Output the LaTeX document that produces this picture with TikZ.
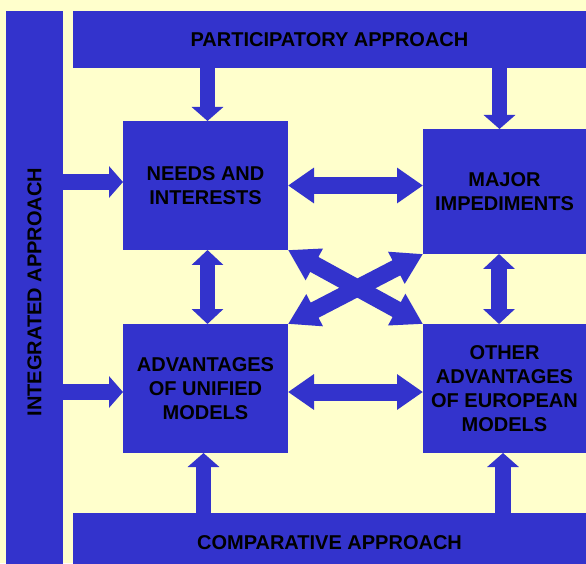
\documentclass[tikz,border=0pt]{standalone}
\usepackage{fontspec}
\setmainfont{Liberation Sans}
\usepackage{tikz}
\usetikzlibrary{arrows.meta}

\definecolor{boxblue}{RGB}{51,51,204}
\definecolor{paleyellow}{RGB}{255,255,204}

\begin{document}
\begin{tikzpicture}[x=1pt, y=1pt,
    box/.style={fill=boxblue, inner sep=0pt, outer sep=0pt, align=center,
                font=\fontsize{20}{24}\selectfont\bfseries},
    oneway/.style={boxblue, line width=15.5pt, -{Triangle[width=31pt, length=14pt]}},
    twoway/.style={boxblue, line width=17pt,
                   {Triangle[width=34pt, length=26pt]}-{Triangle[width=34pt, length=26pt]}},
    upanddown/.style={boxblue, line width=15.5pt,
                   {Triangle[width=31pt, length=15pt]}-{Triangle[width=31pt, length=15pt]}},
    diagonal/.style={boxblue, line width=17pt,
                   {Triangle[width=34pt, length=30pt]}-{Triangle[width=34pt, length=30pt]}}]
            \fill[paleyellow] (0,0) rectangle (586,563);
            \useasboundingbox (0,0) rectangle (586,563);

            \node (integrated) at (34.5,271) [box, minimum width=57pt, minimum height=562pt] {\rotatebox{90}{INTEGRATED APPROACH}};
            \node (participatory) at (329.5,523.5) [box, minimum width=513pt, minimum height=57pt] {PARTICIPATORY APPROACH};
            \node (comparative) at (329.5,20.5) [box, minimum width=513pt, minimum height=59pt] {COMPARATIVE APPROACH};

            \node (needs) at (205.5,377.5) [box, minimum width=165pt, minimum height=129pt] {NEEDS AND\\INTERESTS};
            \node (major) at (504.5,371.5) [box, minimum width=163pt, minimum height=125pt] {MAJOR\\IMPEDIMENTS};
            \node (unified) at (205.5,174.5) [box, minimum width=165pt, minimum height=129pt] {ADVANTAGES\\OF UNIFIED\\MODELS};
            \node (european) at (504.5,174.5) [box, minimum width=163pt, minimum height=129pt] {OTHER\\ADVANTAGES\\OF EUROPEAN\\MODELS};

            \draw[oneway] ([xshift=2pt]needs.north |- participatory.south) -- ([xshift=2pt]needs.north);
            \draw[oneway] ([xshift=-5pt]major.north |- participatory.south) -- ([xshift=-5pt]major.north);
            \draw[oneway] ([yshift=3.5pt]integrated.east |- needs.west) -- ([yshift=3.5pt]needs.west);
            \draw[oneway] ([yshift=-3.5pt]integrated.east |- unified.west) -- ([yshift=-3.5pt]unified.west);
            \draw[oneway] ([xshift=-2pt]unified.south |- comparative.north) -- ([xshift=-2pt]unified.south);
            \draw[oneway] ([xshift=-1.5pt]european.south |- comparative.north) -- ([xshift=-1.5pt]european.south);

            \draw[twoway] (needs.east) -- (needs.east -| major.west);
            \draw[twoway] ([yshift=-3.5pt]unified.east) -- ([yshift=-3.5pt]european.west);
            \draw[upanddown] ([xshift=2pt]needs.south) -- ([xshift=2pt]unified.north);
            \draw[upanddown] ([xshift=-5.5pt]major.south) -- ([xshift=-5.5pt]european.north);

            \draw[diagonal] (needs.south east) -- (european.north west);
            \draw[diagonal] (unified.north east) -- (major.south west);
        \end{tikzpicture}
\end{document}
